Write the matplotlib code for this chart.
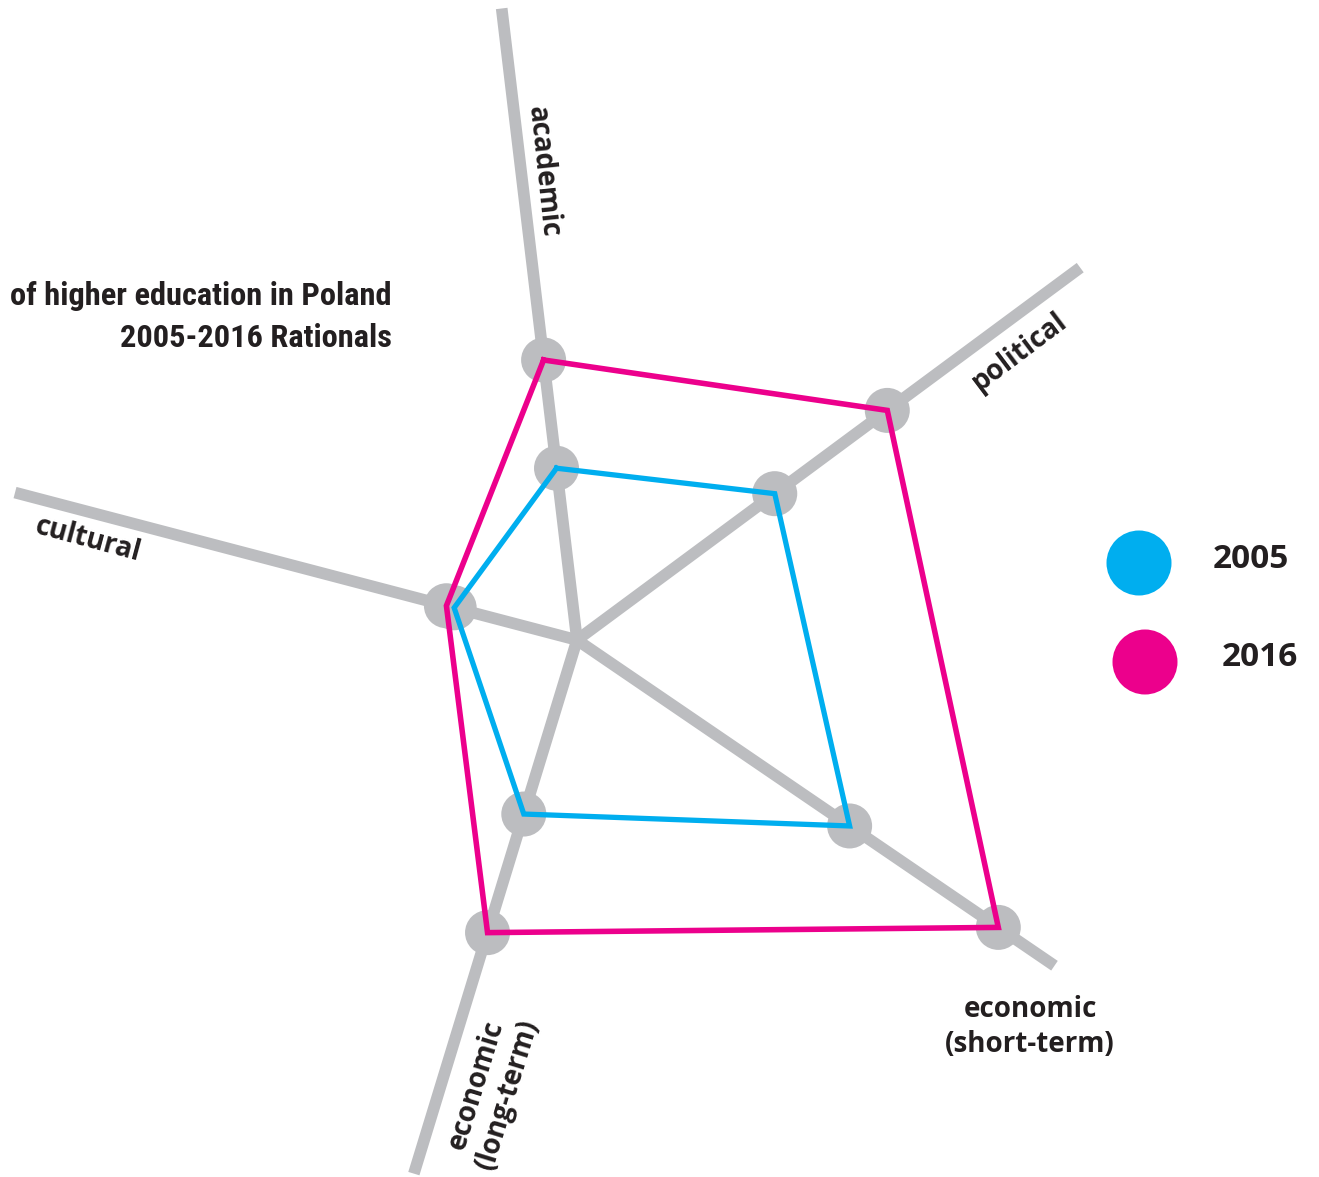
import numpy as np
import matplotlib
matplotlib.use("Agg")
import matplotlib.pyplot as plt
from matplotlib import font_manager
from matplotlib.patches import Circle

# Axes of the radar (angle in degrees, length of the drawn spoke)
axis_names = ["academic", "political", "economic\n(short-term)", "economic\n(long-term)", "cultural"]
axis_angles = [96.8, 36.5, -34.3, -107.0, 165.3]
axis_lengths = [636, 626, 578, 558, 581]

# Scores along each axis
years = ["2005", "2016"]
values_2005 = [173, 246, 330, 182, 127]
values_2016 = [282, 386, 510, 306, 135]

GREY = "#bcbdc0"
BLUE = "#00aeef"
PINK = "#ec008c"
TEXT = "#231f20"


def pick_font(candidates):
    names = {f.name for f in font_manager.fontManager.ttflist}
    for c in candidates:
        if c in names:
            return c
    return "DejaVu Sans"


label_font = pick_font(["Open Sans", "Lato", "DejaVu Sans"])
title_font = pick_font(["Liberation Sans Narrow", "Roboto Condensed", "Liberation Sans"])


def to_xy(angles, values):
    a = np.radians(angles)
    v = np.asarray(values, dtype=float)
    return v * np.cos(a), v * np.sin(a)


fig = plt.figure(figsize=(13.19, 11.77), dpi=100)
ax = fig.add_axes([0, 0, 1, 1])
ax.set_xlim(-577, 742)
ax.set_ylim(-537, 640)
ax.set_aspect("equal")
ax.axis("off")

# spokes
ex, ey = to_xy(axis_angles, axis_lengths)
for x, y in zip(ex, ey):
    ax.plot([0, x], [0, y], color=GREY, lw=8.4, solid_capstyle="butt", zorder=1)

# grey nodes at every score
for vals in (values_2005, values_2016):
    px, py = to_xy(axis_angles, vals)
    for x, y in zip(px, py):
        ax.add_patch(Circle((x, y), 22.5, color=GREY, zorder=2, lw=0))

# polygons
for vals, col, lw in ((values_2005, BLUE, 3.8), (values_2016, PINK, 4.0)):
    px, py = to_xy(axis_angles, vals)
    px = np.append(px, px[0])
    py = np.append(py, py[0])
    ax.plot(px, py, color=col, lw=lw, solid_joinstyle="miter", zorder=3)

# axis labels
lab = dict(fontsize=20, fontweight="bold", color=TEXT, family=label_font,
           ha="center", va="center", rotation_mode="anchor", multialignment="center")
ax.text(-34, 468, axis_names[0], rotation=-84, **lab)
ax.text(443, 288, axis_names[1], rotation=37, **lab)
ax.text(453, -387, axis_names[2], rotation=0, linespacing=1.25, **lab)
ax.text(-85, -450, axis_names[3], rotation=73, linespacing=1.15, **lab)
ax.text(-489, 100, axis_names[4], rotation=-15, **lab)

# title
ax.text(-185, 344, "of higher education in Poland", fontsize=23.3, fontweight="bold",
        family=title_font, color=TEXT, ha="right", va="center")
ax.text(-185, 302, "2005-2016 Rationals", fontsize=23.3, fontweight="bold",
        family=title_font, color=TEXT, ha="right", va="center")

# legend
for (cx, cy), col, yr, tx in (((562, 77), BLUE, years[0], 636), ((568, -22), PINK, years[1], 645)):
    ax.add_patch(Circle((cx, cy), 32.5, color=col, lw=0, zorder=3))
    ax.text(tx, cy + 4, yr, fontsize=24, fontweight="bold", family=label_font,
            color=TEXT, ha="left", va="center")

fig.savefig("out.png", dpi=100, facecolor="white")
